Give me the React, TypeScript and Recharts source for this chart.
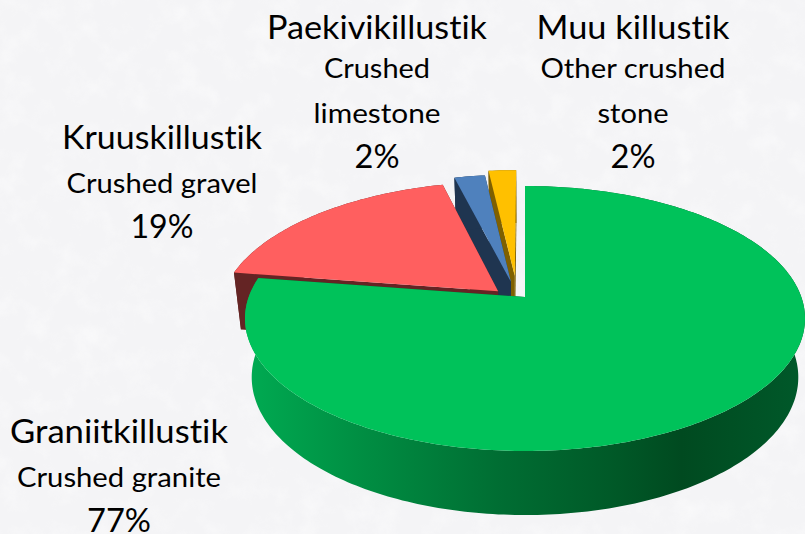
import React from "react";
import { PieChart, Pie } from "recharts";

// Data (drawn in back-to-front order; the pie runs counter-clockwise from 12 o'clock)
const names = ["Muu killustik", "Paekivikillustik", "Kruuskillustik", "Graniitkillustik"];
const subtitles = [["Other crushed", "stone"], ["Crushed", "limestone"], ["Crushed gravel"], ["Crushed granite"]];
const shares = [1.9, 2.1, 18.6, 77.4];

// Styles
const topColors = ["#ffc000", "#4f81bd", "#ff5f5f", "#00c25a"];
const wallColors = ["#7f6000", "#1f3550", "#642424", "#005a28"];
const explode = [[-0.038, 0.17], [-0.052, 0.12], [-0.098, 0.045], [0, 0]];

// Label layout: centre x, baselines, text widths
const labelX = [633, 377, 162, 119];
const labelY = [[39, 78, 123, 168], [39, 78, 123, 168], [149, 193, 238], [443, 487, 532]];
const labelW = [[193, 185, 71, 45], [220, 106, 127, 45], [200, 191, 63], [218, 204, 64]];

const PERSP = 0.1623;
const TILT = -80.8;
const FONT = "Lato, 'Open Sans', sans-serif";

function project(cx: number, cy: number, R: number, u: number, v: number): [number, number] {
  const w = 1 + PERSP * v;
  return [cx + (R * u) / w, (cy + TILT * v) / w];
}
const lower = (cx: number, p: [number, number]): [number, number] => [
  cx + (p[0] - cx) * 0.976,
  p[1] * 1.04 + 46,
];
const toPath = (pts: [number, number][]) =>
  "M" + pts.map((p) => `${p[0].toFixed(2)},${p[1].toFixed(2)}`).join("L") + "Z";

function Slice3D(props: any) {
  const { cx, cy, outerRadius: R, startAngle, endAngle, index } = props;
  const [du, dv] = explode[index];
  const P = (u: number, v: number) => project(cx, cy, R, u + du, v + dv);
  const a0 = Math.min(startAngle, endAngle);
  const a1 = Math.max(startAngle, endAngle);
  const rim: [number, number][] = [];
  const n = Math.max(4, Math.ceil((a1 - a0) / 1));
  for (let i = 0; i <= n; i++) {
    const t = ((a0 + ((a1 - a0) * i) / n) * Math.PI) / 180;
    rim.push(P(Math.cos(t), Math.sin(t)));
  }
  const apex = P(0, 0);
  const rimLow = rim.map((p) => lower(cx, p)).reverse();
  const wallA = [apex, rim[0], lower(cx, rim[0]), lower(cx, apex)] as [number, number][];
  const wallB = [apex, rim[n], lower(cx, rim[n]), lower(cx, apex)] as [number, number][];
  const isGreen = index === 3;
  return (
    <g>
      {isGreen && (
        <defs>
          <linearGradient id="greenWall" gradientUnits="userSpaceOnUse" x1={245} y1={0} x2={805} y2={0}>
            <stop offset="0" stopColor="#00ab52" />
            <stop offset="0.2" stopColor="#008f43" />
            <stop offset="0.45" stopColor="#006e33" />
            <stop offset="0.65" stopColor="#005a28" />
            <stop offset="0.78" stopColor="#004a20" />
            <stop offset="1" stopColor="#00592a" />
          </linearGradient>
        </defs>
      )}
      <path d={toPath(wallA)} fill={wallColors[index]} />
      <path d={toPath(wallB)} fill={wallColors[index]} />
      <path d={toPath([...rim, ...rimLow])} fill={isGreen ? "url(#greenWall)" : wallColors[index]} />
      <path d={toPath([apex, ...rim])} fill={topColors[index]} />
    </g>
  );
}

function SliceLabel(props: any) {
  const { index } = props;
  const lines = [names[index], ...subtitles[index], `${Math.round(shares[index])}%`];
  return (
    <g>
      {lines.map((line, i) => {
        const small = i > 0 && i < lines.length - 1;
        return (
          <text
            key={i}
            x={labelX[index]}
            y={labelY[index][i]}
            textAnchor="middle"
            fontFamily={FONT}
            fontSize={small ? 26 : 32}
            fill="#000"
            textLength={labelW[index][i]}
            lengthAdjust="spacingAndGlyphs"
            style={{ fontVariantLigatures: "none", fontFeatureSettings: "'liga' 0, 'dlig' 0, 'clig' 0" }}
          >
            {line}
          </text>
        );
      })}
    </g>
  );
}

const tableData = names.map((name, i) => ({ name, value: shares[i] }));

export default function App() {
  return (
    <div style={{ position: "absolute", left: 0, top: 0, width: 805, height: 534, overflow: "hidden", background: "#f4f4f6" }}>
      <svg width={805} height={534} style={{ position: "absolute", left: 0, top: 0 }}>
        <filter id="mottle">
          <feTurbulence type="fractalNoise" baseFrequency="0.04" numOctaves={4} seed={7} />
          <feColorMatrix values="0 0 0 0 1  0 0 0 0 1  0 0 0 0 1  1.6 0 0 0 -0.75" />
        </filter>
        <rect width={805} height={534} filter="url(#mottle)" opacity={0.6} />
      </svg>
      <div style={{ position: "absolute", left: 0, top: 0 }}>
        <PieChart width={805} height={534} margin={{ top: 0, right: 0, bottom: 0, left: 0 }}>
          <Pie
            data={tableData}
            dataKey="value"
            nameKey="name"
            cx={525}
            cy={297}
            outerRadius={276.3}
            startAngle={90}
            endAngle={450}
            stroke="none"
            shape={Slice3D}
            label={SliceLabel}
            labelLine={false}
            isAnimationActive={false}
          />
        </PieChart>
      </div>
    </div>
  );
}
